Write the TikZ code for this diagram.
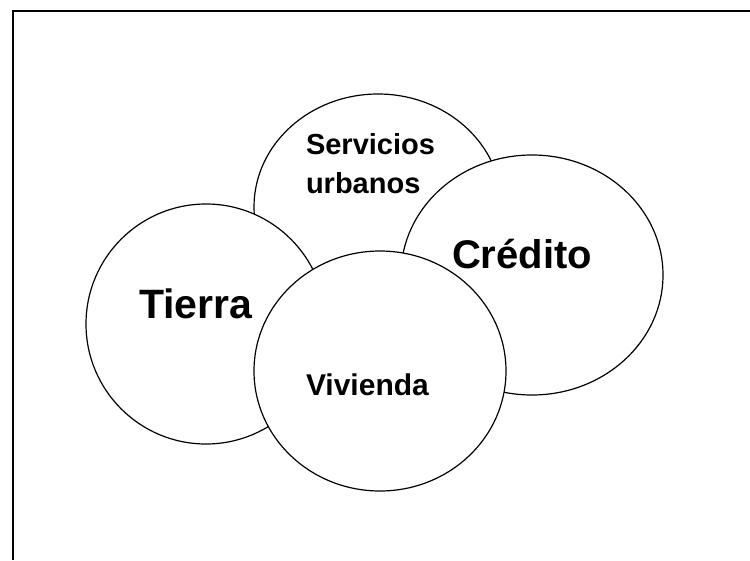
\documentclass[tikz,border=0pt]{standalone}
\usepackage{fontspec}
\setmainfont{Liberation Sans}
\usepackage{tikz}
\tikzset{%
  blob/.style={draw=black,fill=white,line width=1.2pt},
  lbl/.style={inner sep=0pt,outer sep=0pt,anchor=base west,font=\bfseries},
  frameline/.style={line width=2.4pt}
}

\begin{document}
\begin{tikzpicture}[x=1pt,y=-1pt]
\useasboundingbox (0,0) rectangle (750,560);
% frame, only top and left sides show
\draw[frameline] (750,11) -- (13,11) -- (13,560);

% circles, back to front
\draw[blob] (378,207) ellipse (124 and 113);
\draw[blob] (206,324) ellipse (120 and 120);
\draw[blob] (532,275) ellipse (131 and 120);
\draw[blob] (380,371) ellipse (126 and 120);

\node[lbl,font=\bfseries\fontsize{29}{35}\selectfont] (serv) at (306,154) {Servicios};
\node[lbl,font=\bfseries\fontsize{29}{35}\selectfont] (urb) at (306,193) {urbanos};
\node[lbl,font=\bfseries\fontsize{41}{49}\selectfont] (tierra) at (139,318) {Tierra};
\node[lbl,font=\bfseries\fontsize{40}{48}\selectfont] (credito) at (452,268) {Crédito};
\node[lbl,font=\bfseries\fontsize{30}{36}\selectfont] (vivienda) at (306,395) {Vivienda};
\end{tikzpicture}
\end{document}
